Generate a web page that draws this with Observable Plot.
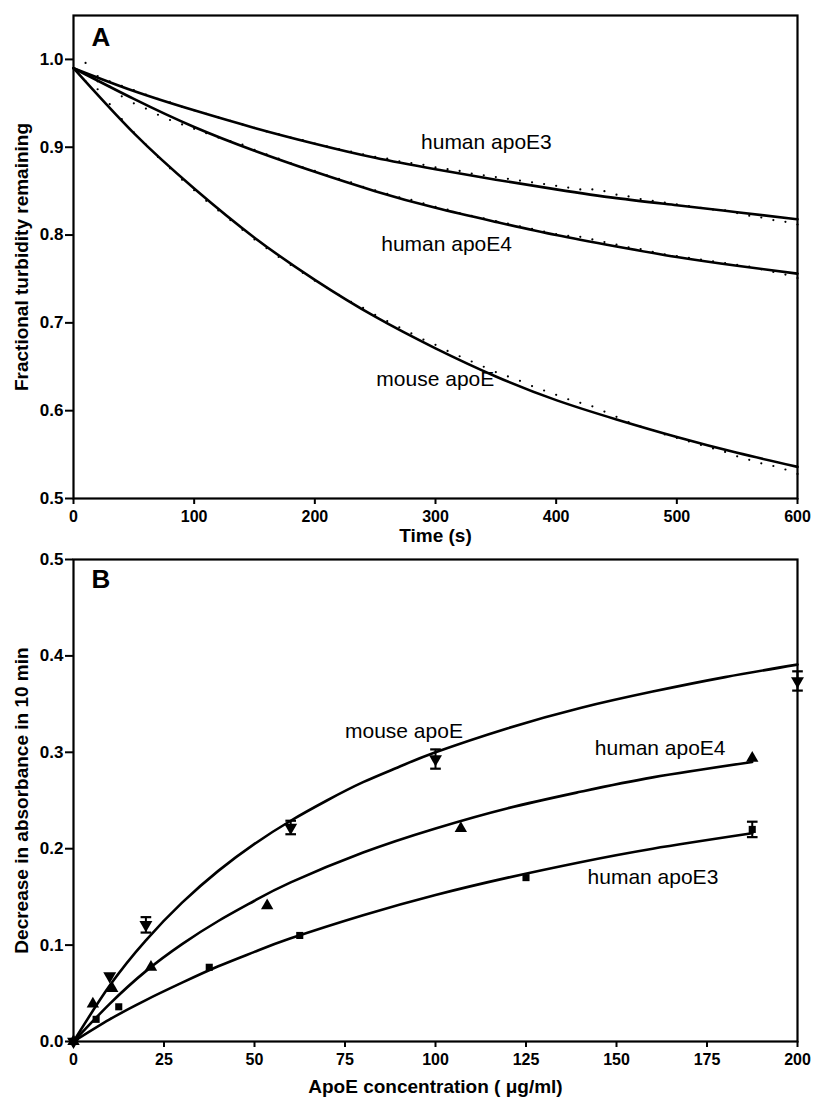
<!DOCTYPE html>
<html><head><meta charset="utf-8">
<script src="https://cdn.jsdelivr.net/npm/d3@7"></script>
<script src="https://cdn.jsdelivr.net/npm/@observablehq/plot@0.6"></script>
<style>
body{margin:0;background:#fff;}
#chart{width:814px;}
#chart svg{display:block;}
</style></head><body><div id="chart"></div>
<script>
// ---------- Panel A data ----------
const seriesA = ["human apoE3", "human apoE4", "mouse apoE"];
const timeFit = [0, 50, 100, 150, 200, 250, 300, 350, 400, 450, 500, 550, 600];
const fitE3 = [0.990, 0.964, 0.942, 0.922, 0.904, 0.888, 0.875, 0.863, 0.852, 0.842, 0.834, 0.826, 0.818];
const fitE4 = [0.990, 0.955, 0.923, 0.896, 0.872, 0.850, 0.831, 0.815, 0.800, 0.787, 0.775, 0.765, 0.756];
const fitMouse = [0.990, 0.916, 0.853, 0.797, 0.749, 0.707, 0.671, 0.639, 0.612, 0.590, 0.570, 0.552, 0.536];

const timeDots = [10,20,30,40,50,60,70,80,90,100,110,120,130,140,150,160,170,180,190,200,
  210,220,230,240,250,260,270,280,290,300,310,320,330,340,350,360,370,380,390,400,
  410,420,430,440,450,460,470,480,490,500,510,520,530,540,550,560,570,580,590,600];
const dotsE3 = [0.996,0.981,0.975,0.970,0.965,0.960,0.955,0.951,0.946,0.942,
  0.938,0.934,0.930,0.926,0.922,0.918,0.915,0.911,0.908,0.904,
  0.901,0.898,0.895,0.892,0.889,0.887,0.884,0.882,0.880,0.877,
  0.875,0.873,0.870,0.868,0.866,0.864,0.862,0.860,0.858,0.856,
  0.854,0.852,0.852,0.850,0.846,0.844,0.841,0.839,0.837,0.835,
  0.833,0.831,0.829,0.828,0.825,0.822,0.820,0.817,0.815,0.812];
const dotsE4 = [0.983,0.975,0.969,0.958,0.950,0.944,0.937,0.931,0.926,0.921,
  0.916,0.911,0.907,0.903,0.897,0.892,0.887,0.882,0.877,0.873,
  0.868,0.864,0.860,0.855,0.851,0.847,0.843,0.840,0.836,0.832,
  0.829,0.825,0.822,0.819,0.816,0.813,0.810,0.807,0.804,0.801,
  0.799,0.798,0.795,0.792,0.789,0.786,0.784,0.781,0.778,0.776,
  0.774,0.772,0.770,0.768,0.766,0.764,0.761,0.758,0.755,0.751];
const dotsMouse = [0.975,0.966,0.949,0.932,0.917,0.903,0.889,0.876,0.863,0.851,
  0.839,0.828,0.817,0.806,0.795,0.785,0.775,0.766,0.757,0.748,
  0.740,0.732,0.724,0.717,0.709,0.702,0.695,0.688,0.681,0.675,
  0.668,0.662,0.656,0.650,0.644,0.639,0.634,0.628,0.623,0.618,
  0.613,0.609,0.605,0.599,0.593,0.587,0.582,0.578,0.573,0.569,
  0.565,0.561,0.557,0.553,0.548,0.544,0.540,0.537,0.533,0.528];

const xTicksA = [0, 100, 200, 300, 400, 500, 600];
const yTicksA = [0.5, 0.6, 0.7, 0.8, 0.9, 1.0];
const labelA_t = [288, 255, 251];
const labelA_v = [0.906, 0.790, 0.636];

// ---------- Panel B data ----------
const concMouse = [0, 10, 20, 60, 100, 200];
const absMouse = [0.000, 0.068, 0.121, 0.222, 0.293, 0.374];
const errMouse = [0, 0, 0.008, 0.007, 0.010, 0.010];
const concE4 = [0, 5.35, 10.7, 21.4, 53.5, 107, 187.5];
const absE4 = [0.000, 0.039, 0.055, 0.077, 0.141, 0.221, 0.294];
const concE3 = [0, 6.25, 12.5, 37.5, 62.5, 125, 187.5];
const absE3 = [0.000, 0.023, 0.036, 0.077, 0.110, 0.170, 0.220];
const errE3 = [0, 0, 0, 0, 0, 0, 0.008];

const fitConcMouse = [0, 10, 20, 30, 40, 50, 60, 70, 80, 90, 100, 120, 140, 160, 180, 200];
const fitAbsMouse = [0, 0.058, 0.105, 0.144, 0.177, 0.205, 0.229, 0.250, 0.269, 0.285, 0.300, 0.325, 0.346, 0.363, 0.378, 0.391];
const fitConcE4 = [0, 10, 20, 30, 40, 50, 60, 80, 100, 120, 140, 160, 187.5];
const fitAbsE4 = [0, 0.039, 0.073, 0.101, 0.125, 0.146, 0.165, 0.196, 0.221, 0.242, 0.259, 0.274, 0.290];
const fitConcE3 = [0, 10, 20, 30, 40, 50, 60, 80, 100, 120, 140, 160, 187.5];
const fitAbsE3 = [0, 0.023, 0.043, 0.061, 0.078, 0.093, 0.107, 0.131, 0.152, 0.170, 0.186, 0.200, 0.216];

const xTicksB = [0, 25, 50, 75, 100, 125, 150, 175, 200];
const yTicksB = [0.0, 0.1, 0.2, 0.3, 0.4, 0.5];
const labelsB = ["mouse apoE", "human apoE4", "human apoE3"];
const labelB_c = [75, 144, 142];
const labelB_v = [0.322, 0.304, 0.170];

// ---------- build tables ----------
const fitA = [];
[fitE3, fitE4, fitMouse].forEach((arr, i) => arr.forEach((v, j) => fitA.push({series: seriesA[i], t: timeFit[j], v})));
const dotsA = [];
[dotsE3, dotsE4, dotsMouse].forEach((arr, i) => arr.forEach((v, j) => dotsA.push({series: seriesA[i], t: timeDots[j], v})));
const labA = seriesA.map((s, i) => ({text: s, t: labelA_t[i], v: labelA_v[i]}));

const fitB = [];
fitConcMouse.forEach((c, j) => fitB.push({series: "mouse", c, v: fitAbsMouse[j]}));
fitConcE4.forEach((c, j) => fitB.push({series: "e4", c, v: fitAbsE4[j]}));
fitConcE3.forEach((c, j) => fitB.push({series: "e3", c, v: fitAbsE3[j]}));
const ptsMouse = concMouse.map((c, j) => ({c, v: absMouse[j], e: errMouse[j]}));
const ptsE4 = concE4.map((c, j) => ({c, v: absE4[j]}));
const ptsE3 = concE3.map((c, j) => ({c, v: absE3[j], e: errE3[j]}));
const errs = [...ptsMouse, ...ptsE3].filter(d => d.e > 0);
const caps = [];
errs.forEach(d => { caps.push({c: d.c, v: d.v - d.e}); caps.push({c: d.c, v: d.v + d.e}); });
const labB = labelsB.map((s, i) => ({text: s, c: labelB_c[i], v: labelB_v[i]}));

const dash = {draw(ctx, size) { const w = Math.sqrt(size); ctx.moveTo(-w, 0); ctx.lineTo(w, 0); }};

const FONT = "'Liberation Sans', Arial, Helvetica, sans-serif";
const xAxisStyle = {fontSize: 16, fontWeight: "bold", strokeWidth: 2};
const yAxisStyle = {fontSize: 17, fontWeight: "bold", strokeWidth: 2};

const plotA = Plot.plot({
  width: 814, height: 548,
  marginTop: 15, marginBottom: 50, marginLeft: 73, marginRight: 17,
  style: {fontFamily: FONT, background: "white", color: "black"},
  x: {domain: [0, 600]},
  y: {domain: [0.5, 1.05]},
  marks: [
    Plot.axisX({ticks: xTicksA, tickSize: 6, tickPadding: 6, label: null, ...xAxisStyle}),
    Plot.axisY({ticks: yTicksA, tickSize: 8, tickPadding: 2, tickFormat: d => d.toFixed(1), label: null, ...yAxisStyle}),
    Plot.frame({strokeWidth: 2.2}),
    Plot.dot(dotsA, {x: "t", y: "v", r: 1.1, fill: "black", stroke: null}),
    Plot.line(fitA, {x: "t", y: "v", z: "series", curve: "natural", strokeWidth: 2.6}),
    Plot.text(labA, {x: "t", y: "v", text: "text", textAnchor: "start", lineAnchor: "middle", fontSize: 21}),
    Plot.text(["A"], {text: d => d, frameAnchor: "top-left", dx: 18, dy: 22, fontSize: 26, fontWeight: "bold", lineAnchor: "middle"}),
    Plot.text(["Fractional turbidity remaining"], {text: d => d, frameAnchor: "left", textAnchor: "middle", dx: -52, rotate: -90, fontSize: 19, fontWeight: "bold", lineAnchor: "middle"}),
    Plot.text(["Time (s)"], {text: d => d, frameAnchor: "bottom", textAnchor: "middle", dy: 37, fontSize: 19, fontWeight: "bold", lineAnchor: "middle"})
  ]
});

const plotB = Plot.plot({
  width: 814, height: 554,
  marginTop: 11, marginBottom: 61, marginLeft: 73, marginRight: 17,
  style: {fontFamily: FONT, background: "white", color: "black"},
  x: {domain: [0, 200]},
  y: {domain: [0, 0.5]},
  marks: [
    Plot.axisX({ticks: xTicksB, tickSize: 6, tickPadding: 6, label: null, ...xAxisStyle}),
    Plot.axisY({ticks: yTicksB, tickSize: 8, tickPadding: 2, tickFormat: d => d.toFixed(1), label: null, ...yAxisStyle}),
    Plot.frame({strokeWidth: 2.2}),
    Plot.line(fitB, {x: "c", y: "v", z: "series", curve: "natural", strokeWidth: 2.6}),
    Plot.ruleX(errs, {x: "c", y1: d => d.v - d.e, y2: d => d.v + d.e, strokeWidth: 2}),
    Plot.dot(caps, {x: "c", y: "v", symbol: dash, r: 3, stroke: "black", strokeWidth: 2.2, fill: "none"}),
    Plot.dot(ptsMouse, {x: "c", y: "v", symbol: "triangle", rotate: 180, r: 4.8, fill: "black", stroke: null}),
    Plot.dot(ptsE4, {x: "c", y: "v", symbol: "triangle", r: 4.6, fill: "black", stroke: null}),
    Plot.dot(ptsE3, {x: "c", y: "v", symbol: "square", r: 4, fill: "black", stroke: null}),
    Plot.text(labB, {x: "c", y: "v", text: "text", textAnchor: "start", lineAnchor: "middle", fontSize: 21}),
    Plot.text(["B"], {text: d => d, frameAnchor: "top-left", dx: 18, dy: 20, fontSize: 26, fontWeight: "bold", lineAnchor: "middle"}),
    Plot.text(["Decrease in absorbance in 10 min"], {text: d => d, frameAnchor: "left", textAnchor: "middle", dx: -52, rotate: -90, fontSize: 19, fontWeight: "bold", lineAnchor: "middle"}),
    Plot.text(["ApoE concentration ( \u03bcg/ml)"], {text: d => d, frameAnchor: "bottom", textAnchor: "middle", dy: 45, fontSize: 19, fontWeight: "bold", lineAnchor: "middle"})
  ]
});

const root = document.getElementById("chart");
root.appendChild(plotA);
root.appendChild(plotB);
</script></body></html>
